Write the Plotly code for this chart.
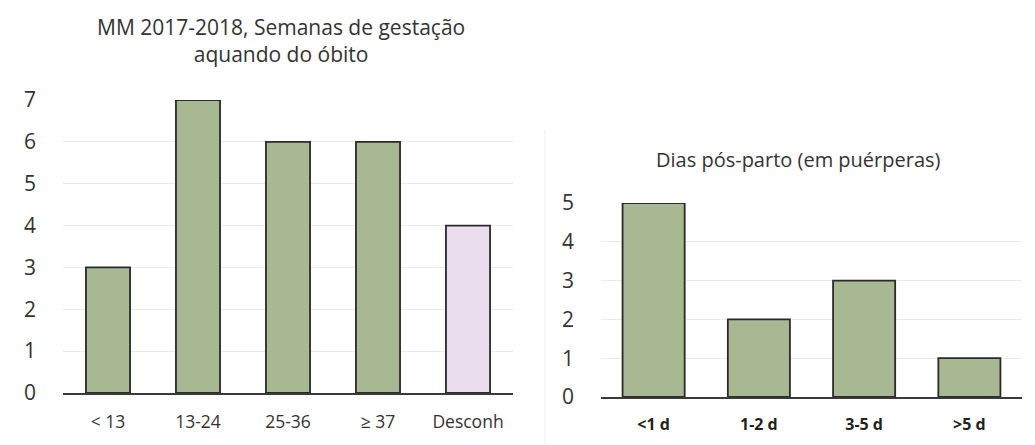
"""Two bar charts: gestational weeks at death and post-partum days."""
import plotly.graph_objects as go

GREEN = "#A8B893"
PINK = "#EADDEE"
EDGE = "#2a2a2a"
FONT = "'Open Sans', Lato, sans-serif"

semanas_labels = ["< 13", "13-24", "25-36", "≥ 37", "Desconh"]
semanas_values = [3, 7, 6, 6, 4]
semanas_colors = [GREEN, GREEN, GREEN, GREEN, PINK]

dias_labels = ["<1 d", "1-2 d", "3-5 d", ">5 d"]
dias_values = [5, 2, 3, 1]

# page body adds an 8px offset, so the figure is sized to fit inside the window
OFF = 8
W, H = 1035 - OFF, 445 - OFF


def px_x(p):
    return (p - OFF) / W


def px_y(p):
    return 1 - (p - OFF) / H


fig = go.Figure()
fig.add_trace(go.Bar(
    x=semanas_labels, y=semanas_values, marker=dict(color=semanas_colors, line=dict(color=EDGE, width=1.8)),
    xaxis="x", yaxis="y", showlegend=False,
))
fig.add_trace(go.Bar(
    x=dias_labels, y=dias_values, marker=dict(color=GREEN, line=dict(color=EDGE, width=1.8)),
    xaxis="x2", yaxis="y2", showlegend=False, width=0.59,
))

grid = dict(showgrid=True, gridcolor="#ebebeb", gridwidth=1, zeroline=False, automargin=False)

fig.update_layout(
    width=W, height=H,
    margin=dict(l=0, r=0, t=0, b=0, autoexpand=False),
    plot_bgcolor="white", paper_bgcolor="white",
    font=dict(family=FONT, color="#333"),
    bargap=0.51,
    xaxis=dict(domain=[px_x(63), px_x(513)], anchor="y", showline=True, linecolor="#3a3a3a", linewidth=1.5,
               tickfont=dict(size=17.5, color="#333"), ticks="", ticklabelstandoff=12, automargin=False),
    yaxis=dict(domain=[px_y(393), px_y(100)], anchor="x", range=[0, 7], dtick=1,
               tickfont=dict(size=21, color="#333"), ticklabelstandoff=26, **grid),
    xaxis2=dict(domain=[px_x(601), px_x(1022)], anchor="y2", showline=True, linecolor="#3a3a3a", linewidth=1.5,
                tickfont=dict(size=16, color="#222", weight="bold"), ticks="", ticklabelstandoff=12,
                automargin=False),
    yaxis2=dict(domain=[px_y(397), px_y(203)], anchor="x2", range=[0, 5], dtick=1,
                tickfont=dict(size=21, color="#333"), ticklabelstandoff=26, **grid),
    annotations=[
        dict(text="MM 2017-2018, Semanas de gestação<br>aquando do óbito", x=px_x(281), y=px_y(41),
             xref="paper", yref="paper", showarrow=False, xanchor="center", yanchor="middle",
             font=dict(size=21, color="#333")),
        dict(text="Dias pós-parto (em puérperas)", x=px_x(798), y=px_y(159),
             xref="paper", yref="paper", showarrow=False, xanchor="center", yanchor="middle",
             font=dict(size=20, color="#333")),
    ],
    shapes=[
        dict(type="line", xref="paper", yref="paper", x0=px_x(545), x1=px_x(545), y0=0, y1=px_y(130),
             line=dict(color="#eeeeee", width=1)),
    ],
)

fig.write_html("out.html")
